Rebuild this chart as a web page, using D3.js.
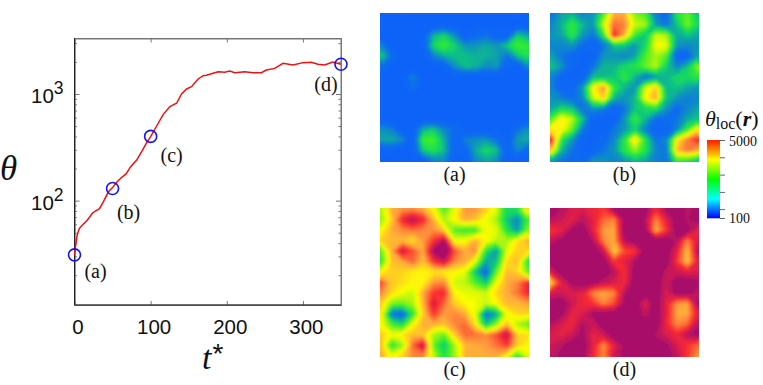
<!DOCTYPE html>
<html>
<head>
<meta charset="utf-8">
<script src="https://cdn.jsdelivr.net/npm/d3@7"></script>
<style>
  html, body { margin: 0; padding: 0; background: #fff; }
  svg { display: block; }
  .serif { font-family: "Liberation Serif", serif; fill: #111; }
  .sans { font-family: "Liberation Sans", sans-serif; fill: #111; }
</style>
</head>
<body>
<svg id="chart"></svg>
<script>
// Curve values
const timeValues = [0, 1.3, 3.5, 6.5, 11.8, 17, 24, 32.8, 38, 44.5, 50, 55.5, 60.7, 67.7, 73.8, 81.7, 88.2, 94.8, 100, 107.9, 116.6, 125.3, 134, 140.6, 147.2, 153.7, 162.4, 169, 173.4, 182, 188.6, 197.4, 204, 210.5, 223.6, 234.5, 245.4, 252, 263, 273.8, 287, 300, 311, 319.7, 328.4, 339.3, 349.8];
const thetaValues = [31, 37, 47.6, 55, 60.4, 65.9, 77, 84, 98, 121, 132.5, 148.6, 162, 178, 208, 240, 288, 350, 398, 501, 644, 761, 818, 1000, 1114, 1171, 1383, 1486, 1496, 1563, 1619, 1596, 1644, 1585, 1619, 1585, 1585, 1679, 1738, 1939, 1871, 1968, 1982, 1897, 1871, 1995, 1897];

// Marked states and their labels
const markerTimes = [0, 50, 100, 350];
const markerThetas = [31, 130, 400, 1900];
const panelNames = ["(a)", "(b)", "(c)", "(d)"];

const xTicks = [0, 100, 200, 300];
const yMajorTicks = [100, 1000];
const yMinorTicks = [20, 30, 40, 50, 60, 70, 80, 90, 200, 300, 400, 500, 600, 700, 800, 900, 2000, 3000];

// Local theta maps, 15 x 15 samples per panel
const gridA = [
  [140,140,160,140,140,140,140,155,140,140,140,140,140,160,140],
  [140,140,140,140,140,140,140,140,140,140,140,140,140,140,140],
  [140,140,140,140,160,430,560,330,150,200,240,160,160,520,400],
  [320,140,140,140,160,600,850,560,350,360,420,360,520,900,780],
  [560,240,140,140,140,290,400,470,480,430,430,400,240,470,680],
  [240,140,140,140,140,140,150,320,470,440,320,360,160,140,320],
  [140,140,140,300,140,140,140,140,140,140,140,140,140,140,140],
  [140,140,140,240,140,140,140,140,140,140,140,140,140,140,140],
  [140,140,140,140,140,140,140,140,140,140,140,140,140,140,140],
  [140,140,140,140,140,140,140,140,140,140,140,140,140,140,140],
  [160,140,140,140,140,140,140,140,140,140,140,140,140,140,140],
  [340,280,140,150,430,520,310,220,150,140,140,150,140,240,340],
  [400,430,320,150,850,900,430,170,280,340,370,240,150,380,430],
  [150,150,140,150,520,680,470,170,170,420,600,480,170,310,170],
  [140,140,140,140,160,280,310,150,150,320,400,340,140,140,140]
];
const gridB = [
  [250,400,450,300,350,900,3000,3000,1100,900,280,200,700,1000,500],
  [300,450,800,450,350,1500,4000,3600,1500,1300,350,250,500,1100,600],
  [350,400,750,350,250,700,6000,2800,800,500,1500,1300,400,500,400],
  [300,300,350,220,170,250,500,500,350,600,1900,1800,350,300,350],
  [400,250,200,150,160,350,350,300,400,900,1300,900,170,180,400],
  [500,350,180,150,250,450,450,600,700,1000,1400,550,300,500,1200],
  [300,170,150,180,450,450,500,800,450,230,350,450,600,600,800],
  [300,170,200,350,2000,3500,800,450,350,1500,2600,450,500,400,350],
  [350,280,220,300,1500,2600,450,350,450,2000,3200,500,350,280,300],
  [400,600,500,250,350,300,170,250,500,600,700,350,200,300,400],
  [900,2200,1400,500,170,150,150,350,800,450,220,220,250,400,500],
  [2200,2000,1000,280,150,150,260,350,550,280,170,170,300,800,2200],
  [6000,700,350,170,150,200,300,700,2500,700,250,300,2000,3800,5500],
  [2800,450,250,150,170,250,350,700,1200,700,300,250,2800,3800,3000],
  [400,250,200,200,350,350,300,350,450,400,280,250,800,700,500]
];
const gridC = [
  [1400,3000,3300,3400,3000,2000,900,1800,3300,3300,2500,1700,600,700,2600],
  [1200,2500,5500,8000,5500,2800,1300,2000,3000,2600,1800,1300,500,300,900],
  [1900,3000,3500,3800,3500,3400,2500,900,800,800,1800,1700,700,350,1200],
  [2500,2800,2800,2200,3200,5000,8500,1800,1900,3000,2000,1400,1300,2200,3000],
  [1000,3000,7000,4500,3000,9000,14000,4500,3000,3500,700,350,1700,2500,2400],
  [800,2700,3000,4000,2700,5000,7000,3500,3000,1700,400,500,2300,2800,700],
  [2000,2500,2400,2100,2000,2200,2100,2000,1700,500,200,1000,2800,2400,1000],
  [4500,2600,2300,2000,2000,3300,3500,1500,1400,900,500,1800,3000,3500,5500],
  [3500,2300,1800,1500,3000,5000,5500,2000,1700,1700,1500,2400,3000,3800,5500],
  [2500,1100,1000,1300,2800,6500,4000,2500,2000,1800,1500,2000,2800,2800,3200],
  [2200,250,200,700,2500,5000,3200,3500,3000,1700,250,400,1800,2400,2400],
  [1900,900,600,1800,3000,3000,2700,3500,4000,2200,500,1200,2800,1300,1000],
  [2600,1800,2200,2800,2600,1300,1000,2500,4000,3800,3500,4500,7500,2500,2300],
  [2700,700,1200,4000,7500,1000,500,1300,2800,3000,3200,3800,5000,2500,2000],
  [3000,1800,2500,3500,3500,1500,700,1200,3000,3000,3000,3000,2000,800,1700]
];
const gridD = [
  [10000,8000,6500,6500,5500,5000,9000,10000,10000,10000,5500,9000,10000,8000,9000],
  [8000,7000,6000,8000,6000,4000,3500,9000,10000,8000,3500,6000,10000,8000,10000],
  [5000,6000,9000,10000,6000,3200,3000,10000,10000,9000,2800,5000,10000,10000,6000],
  [7500,9000,10000,10000,8000,3500,3000,8000,10000,10000,10000,10000,8000,3500,6500],
  [10000,10000,10000,10000,10000,7000,2400,4500,5000,10000,10000,10000,6000,2600,8000],
  [10000,10000,10000,10000,10000,10000,5000,6000,8500,10000,10000,10000,5000,2600,6000],
  [6500,10000,10000,10000,10000,10000,8000,5000,10000,10000,10000,7500,7000,6000,6500],
  [2500,6000,9000,10000,9000,7500,6500,5500,10000,10000,10000,7000,10000,10000,9000],
  [6500,7000,6500,6000,3500,3000,3500,8000,10000,10000,10000,6500,9500,10000,7500],
  [10000,10000,7000,5500,5000,3500,4500,9000,10000,6000,10000,6000,3300,3000,9000],
  [10000,9000,6000,6500,9000,10000,10000,10000,10000,7500,10000,6000,3000,3000,6000],
  [8000,6500,5500,8500,7000,10000,10000,10000,10000,10000,10000,5500,3500,4000,8000],
  [6500,6000,7000,9000,6000,7000,10000,10000,10000,10000,8000,6500,5500,8000,9000],
  [7000,8000,10000,10000,6000,3300,6000,9000,10000,10000,10000,9000,6500,5000,4000],
  [7500,9000,10000,10000,5500,3500,7000,9000,10000,10000,10000,9500,7500,5000,3300]
];
const grids = [gridA, gridB, gridC, gridD];

// Colours of the maps
const mapStops = [140, 220, 360, 520, 800, 1300, 1880, 3000, 5000, 6500, 8500];
const mapColors = ["#0a64f8", "#0a6cf0", "#0e9ab4", "#12d070", "#30ec30", "#b0f510", "#ffff00", "#ffa63c", "#f92a30", "#d61c50", "#a8106a"];

// Colour bar
const barStops = [100, 266, 707, 1880, 3000, 5000];
const barColors = ["#0000ff", "#00ffff", "#00ff00", "#ffff00", "#ff9000", "#ff2000"];
const barLabels = [5000, 100];
const barMinorTicks = [2100, 880, 370, 156];

const width = 763;
const height = 385;

const svg = d3.select("#chart")
  .attr("width", width)
  .attr("height", height);

// Scales for the line plot
const xScale = d3.scaleLinear().domain([0, 350]).range([74.5, 341]);
const yScale = d3.scaleLog().domain([10.5, 3350]).range([305, 38]);
const mapColor = d3.scaleLog().domain(mapStops).range(mapColors).clamp(true);
const barColor = d3.scaleLog().domain(barStops).range(barColors).clamp(true);

const plot = svg.append("g");

// Frame, darker on the left and bottom like the original
plot.append("rect")
  .attr("x", 74.5).attr("y", 38.5)
  .attr("width", 266.5).attr("height", 266.5)
  .attr("fill", "none").attr("stroke", "#777");

// Axes
const bottomAxis = d3.axisBottom(xScale).tickValues(xTicks).tickSize(-4).tickPadding(14.5);
const gx = plot.append("g").attr("transform", "translate(0,305)").call(bottomAxis);
gx.selectAll("text").attr("class", "sans").attr("font-size", 20.5).attr("dx", 3).attr("fill", "#111");

plot.append("g").attr("transform", "translate(0,38.5)")
  .call(d3.axisTop(xScale).tickValues(xTicks).tickSize(-4).tickFormat(""));

const leftAxis = d3.axisLeft(yScale).tickValues(yMajorTicks).tickSize(-5).tickFormat("");
plot.append("g").attr("transform", "translate(74.5,0)").call(leftAxis);
plot.append("g").attr("transform", "translate(74.5,0)")
  .call(d3.axisLeft(yScale).tickValues(yMinorTicks).tickSize(-2.5).tickFormat(""));
plot.append("g").attr("transform", "translate(341,0)")
  .call(d3.axisRight(yScale).tickValues(yMajorTicks).tickSize(-5).tickFormat(""));
plot.append("g").attr("transform", "translate(341,0)")
  .call(d3.axisRight(yScale).tickValues(yMinorTicks).tickSize(-2.5).tickFormat(""));
plot.selectAll(".domain").attr("stroke", "#777");
plot.selectAll(".tick line").attr("stroke", "#777");

// Dark left and bottom edges
plot.append("line").attr("x1", 74.5).attr("x2", 74.5).attr("y1", 38).attr("y2", 305).attr("stroke", "#222");
plot.append("line").attr("x1", 74.5).attr("x2", 341).attr("y1", 305).attr("y2", 305).attr("stroke", "#222");

// Decade labels
yMajorTicks.forEach(d => {
  const label = plot.append("text")
    .attr("class", "sans")
    .attr("x", 31)
    .attr("y", yScale(d) + 9)
    .attr("font-size", 20.5);
  label.append("tspan").text("10");
  label.append("tspan")
    .attr("dy", -9)
    .attr("font-size", 17.5)
    .text(Math.round(Math.log10(d)));
});

// Curve
const line = d3.line()
  .x((d, i) => xScale(timeValues[i]))
  .y(d => yScale(d));

plot.append("path")
  .datum(thetaValues)
  .attr("d", line)
  .attr("fill", "none")
  .attr("stroke", "#f01010")
  .attr("stroke-width", 1.5);

// Blue markers
plot.selectAll(".marker")
  .data(markerTimes)
  .enter()
  .append("circle")
  .attr("class", "marker")
  .attr("cx", d => xScale(d))
  .attr("cy", (d, i) => yScale(markerThetas[i]))
  .attr("r", 6)
  .attr("fill", "none")
  .attr("stroke", "#1414f5")
  .attr("stroke-width", 1.6);

// Marker labels, offset from their markers
const labelDx = [21, 16, 21, -15];
const labelDy = [23, 31, 26, 27];
panelNames.forEach((name, i) => {
  plot.append("text")
    .attr("class", "serif")
    .attr("x", xScale(markerTimes[i]) + labelDx[i])
    .attr("y", yScale(markerThetas[i]) + labelDy[i])
    .attr("text-anchor", "middle")
    .attr("font-size", 20)
    .text(name);
});

// Axis titles
plot.append("text").attr("class", "serif")
  .attr("x", 0).attr("y", 180)
  .attr("font-size", 35).attr("font-style", "italic")
  .text("θ");

const xTitle = plot.append("text").attr("class", "serif")
  .attr("x", 202).attr("y", 369)
  .attr("font-size", 34);
xTitle.append("tspan").attr("font-style", "italic").text("t");
xTitle.append("tspan").attr("class", "sans").attr("font-size", 28).attr("dy", -6).attr("dx", 1).text("*");

// Heat map panels
const panelSize = 149;
const panelX = [380, 550, 380, 550];
const panelY = [13, 13, 208, 208];
const gridSize = 15;

const defs = svg.append("defs");
defs.append("filter").attr("id", "soften")
  .attr("x", "-5%").attr("y", "-5%").attr("width", "110%").attr("height", "110%")
  .append("feGaussianBlur").attr("stdDeviation", 1.5);

const thresholds = d3.range(1.9, 4.2, 0.02);
const contours = d3.contours().size([gridSize, gridSize]).thresholds(thresholds);

grids.forEach((grid, i) => {
  const clipId = "panel-clip-" + i;
  defs.append("clipPath").attr("id", clipId)
    .append("rect").attr("width", panelSize).attr("height", panelSize);

  const panel = svg.append("g")
    .attr("transform", `translate(${panelX[i]},${panelY[i]})`)
    .attr("clip-path", `url(#${clipId})`);

  // Overscan a little so the blur does not fade at the panel edge
  const over = 4;
  const k = (panelSize + 2 * over) / gridSize;
  const path = d3.geoPath(d3.geoTransform({
    point(x, y) { this.stream.point(x * k - over, y * k - over); }
  }));

  panel.append("g")
    .attr("filter", "url(#soften)")
    .selectAll("path")
    .data(contours(grid.flat().map(Math.log10)))
    .enter()
    .append("path")
    .attr("d", path)
    .attr("fill", d => mapColor(Math.pow(10, d.value)));

  svg.append("text")
    .attr("class", "serif")
    .attr("x", panelX[i] + panelSize / 2)
    .attr("y", panelY[i] + panelSize + 19)
    .attr("text-anchor", "middle")
    .attr("font-size", 20)
    .text(panelNames[i]);
});

// Colour bar on the right
const barScale = d3.scaleLog().domain([100, 5000]).range([218, 140]);
const barSteps = d3.range(218, 140, -1);

svg.selectAll(".bar-step")
  .data(barSteps)
  .enter()
  .append("rect")
  .attr("class", "bar-step")
  .attr("x", 707)
  .attr("y", d => d - 1)
  .attr("width", 13)
  .attr("height", 1.3)
  .attr("fill", d => barColor(barScale.invert(d - 0.5)));

svg.selectAll(".bar-tick")
  .data(barLabels.concat(barMinorTicks))
  .enter()
  .append("line")
  .attr("class", "bar-tick")
  .attr("x1", 720)
  .attr("x2", 725)
  .attr("y1", d => barScale(d) + 0.5)
  .attr("y2", d => barScale(d) + 0.5)
  .attr("stroke", "#666");

svg.selectAll(".bar-label")
  .data(barLabels)
  .enter()
  .append("text")
  .attr("class", "serif")
  .attr("x", 729)
  .attr("y", d => barScale(d) + (d === 100 ? 5 : 6))
  .attr("font-size", 14)
  .text(d => d);

const barTitle = svg.append("text").attr("class", "serif")
  .attr("x", 705).attr("y", 126)
  .attr("font-size", 22);
barTitle.append("tspan").attr("font-style", "italic").text("θ");
barTitle.append("tspan").attr("font-size", 16).attr("dy", 3).text("loc");
barTitle.append("tspan").attr("dy", -3).text("(");
barTitle.append("tspan").attr("font-style", "italic").attr("font-weight", "bold").text("r");
barTitle.append("tspan").text(")");
</script>
</body>
</html>
